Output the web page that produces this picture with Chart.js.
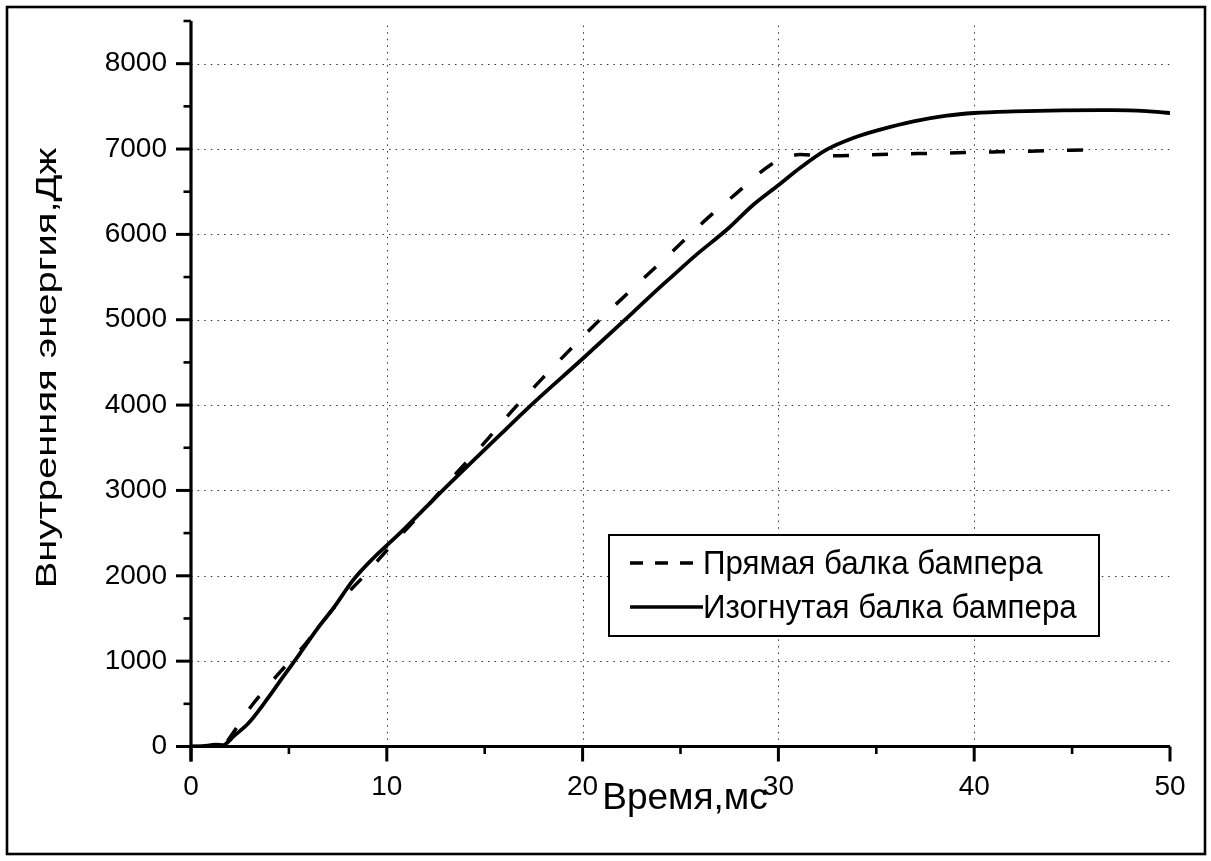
<!DOCTYPE html>
<html>
<head>
<meta charset="utf-8">
<script src="https://cdn.jsdelivr.net/npm/chart.js@4.4.1/dist/chart.umd.min.js"></script>
<style>
  html, body { margin: 0; padding: 0; background: #fff; }
  #wrap { width: 1211px; height: 861px; position: relative; }
  canvas { display: block; }
</style>
</head>
<body>
<div id="wrap"><canvas id="chart"></canvas></div>
<script>
// Internal energy of a straight vs. a curved bumper beam during impact
const timeStraight = [0, 1.6, 2.0, 2.93, 4.34, 5.87, 7.35, 8.8, 10.3, 11.9, 13.4, 14.89, 16.34, 17.91, 19.52, 21.18, 22.87, 24.53, 26.2, 27.87, 29.54, 30.3, 31.1, 32.0, 32.8, 34.5, 36.2, 37.9, 39.5, 41.2, 42.85, 44.5, 46.2, 46.7];
const energyStraight = [0, 0, 110, 428, 818, 1209, 1639, 1990, 2374, 2770, 3163, 3534, 3917, 4304, 4687, 5066, 5433, 5787, 6152, 6484, 6805, 6890, 6935, 6925, 6922, 6932, 6943, 6950, 6959, 6967, 6975, 6984, 6992, 6996];

const timeCurved = [0, 0.6, 1.0, 1.3, 1.65, 1.9, 2.16, 2.93, 3.86, 4.71, 5.57, 6.42, 7.27, 8.29, 9.31, 10.67, 12.03, 13.23, 15.78, 17.48, 20.0, 22.59, 23.9, 24.63, 25.8, 27.36, 28.72, 30.03, 31.1, 32.46, 33.82, 35.2, 36.9, 38.6, 40.0, 42.0, 44.5, 47.1, 48.8, 50.0];
const energyCurved = [0, 5, 15, 22, 15, 55, 115, 272, 545, 818, 1092, 1370, 1620, 1952, 2206, 2499, 2811, 3085, 3651, 4023, 4543, 5090, 5370, 5520, 5760, 6054, 6347, 6582, 6777, 6992, 7129, 7227, 7324, 7391, 7422, 7441, 7453, 7455, 7443, 7422];

const seriesNames = ['Прямая балка бампера', 'Изогнутая балка бампера'];
const xAxisTitle = 'Время,мс';
const yAxisTitle = 'Внутренняя энергия,Дж';
const xTickValues = [0, 10, 20, 30, 40, 50];
const yTickValues = [0, 1000, 2000, 3000, 4000, 5000, 6000, 7000, 8000];

const FONT = "'Liberation Sans', Arial, sans-serif";

function toPoints(xs, ys) {
  return xs.map((x, i) => ({ x: x, y: ys[i] }));
}

// Axes, dotted grid, legend box, titles and outer frame
const decorations = {
  id: 'decorations',
  beforeDatasetsDraw(chart) {
    const { ctx, chartArea: a, scales: { x, y } } = chart;
    ctx.save();
    ctx.strokeStyle = 'rgba(0,0,0,0.8)';
    ctx.lineWidth = 1;
    ctx.setLineDash([1.5, 5.1]);
    xTickValues.forEach(v => {
      if (v === x.min || v === x.max) return;
      const px = Math.round(x.getPixelForValue(v)) + 0.5;
      ctx.beginPath(); ctx.moveTo(px, a.bottom); ctx.lineTo(px, a.top); ctx.stroke();
    });
    yTickValues.forEach(v => {
      if (v === y.min) return;
      const py = Math.round(y.getPixelForValue(v)) + 0.5;
      ctx.beginPath(); ctx.moveTo(a.left, py); ctx.lineTo(a.right, py); ctx.stroke();
    });
    ctx.restore();
  },
  afterDatasetsDraw(chart) {
    const { ctx, chartArea: a, scales: { x, y } } = chart;
    ctx.save();
    ctx.setLineDash([]);
    ctx.strokeStyle = '#000';
    ctx.lineCap = 'butt';

    const major = 15, minor = 7.5;
    // axis lines with outward major and minor ticks
    ctx.lineWidth = 3.2;
    ctx.beginPath(); ctx.moveTo(a.left, a.top); ctx.lineTo(a.left, a.bottom + major); ctx.stroke();
    ctx.beginPath(); ctx.moveTo(a.left - major, a.bottom); ctx.lineTo(a.right, a.bottom); ctx.stroke();
    for (let v = 0; v <= y.max + 1; v += 500) {
      const py = y.getPixelForValue(v);
      const len = v % 1000 === 0 ? major : minor;
      ctx.lineWidth = v % 1000 === 0 ? 3 : 2.6;
      ctx.beginPath(); ctx.moveTo(a.left - len, py); ctx.lineTo(a.left, py); ctx.stroke();
    }
    for (let v = 0; v <= x.max + 0.01; v += 5) {
      const px = x.getPixelForValue(v);
      const len = v % 10 === 0 ? major : minor;
      ctx.lineWidth = v % 10 === 0 ? 3 : 2.6;
      ctx.beginPath(); ctx.moveTo(px, a.bottom); ctx.lineTo(px, a.bottom + len); ctx.stroke();
    }

    // legend
    const lx = 609, ly = 535, lw = 490, lh = 101;
    ctx.fillStyle = '#fff';
    ctx.fillRect(lx, ly, lw, lh);
    ctx.lineWidth = 2;
    ctx.strokeRect(lx, ly, lw, lh);
    const ds = chart.data.datasets;
    const rows = [563, 607];
    ds.forEach((d, i) => {
      ctx.lineWidth = 3.5;
      ctx.setLineDash(d.borderDash && d.borderDash.length ? [13, 12] : []);
      ctx.beginPath(); ctx.moveTo(630, rows[i]); ctx.lineTo(703, rows[i]); ctx.stroke();
      ctx.setLineDash([]);
      ctx.save();
      ctx.translate(703, rows[i]);
      ctx.scale(0.92, 1);
      ctx.fillStyle = '#000';
      ctx.font = '34px ' + FONT;
      ctx.textAlign = 'left';
      ctx.textBaseline = 'middle';
      ctx.fillText(d.label, 0, 2);
      ctx.restore();
    });

    // axis titles
    ctx.fillStyle = '#000';
    ctx.font = '37px ' + FONT;
    ctx.textAlign = 'center';
    ctx.textBaseline = 'middle';
    ctx.fillText(xAxisTitle, 685, 799);

    ctx.save();
    ctx.translate(48, 368);
    ctx.rotate(-Math.PI / 2);
    ctx.scale(1, 0.76);
    ctx.font = '40px ' + FONT;
    ctx.fillText(yAxisTitle, 0, 0);
    ctx.restore();

    // outer frame
    ctx.lineWidth = 2.6;
    ctx.strokeRect(7, 7, 1198, 847);
    ctx.restore();
  }
};

new Chart(document.getElementById('chart'), {
  type: 'line',
  data: {
    datasets: [
      {
        label: seriesNames[0],
        data: toPoints(timeStraight, energyStraight),
        borderColor: '#000',
        borderWidth: 3.5,
        borderDash: [16, 23],
        pointRadius: 0,
        fill: false,
        cubicInterpolationMode: 'monotone'
      },
      {
        label: seriesNames[1],
        data: toPoints(timeCurved, energyCurved),
        borderColor: '#000',
        borderWidth: 3.8,
        pointRadius: 0,
        fill: false,
        cubicInterpolationMode: 'monotone'
      }
    ]
  },
  options: {
    responsive: true,
    maintainAspectRatio: false,
    devicePixelRatio: 1,
    animation: false,
    layout: { padding: { top: 21, right: 41, bottom: 0, left: 0 } },
    plugins: { legend: { display: false }, tooltip: { enabled: false } },
    scales: {
      x: {
        type: 'linear',
        min: 0,
        max: 50,
        afterBuildTicks(s) { s.ticks = xTickValues.map(v => ({ value: v })); },
        afterFit(s) { s.height = 114.5; s.paddingLeft = 0; s.paddingRight = 0; },
        grid: { display: false, drawTicks: false },
        border: { display: false },
        ticks: {
          autoSkip: false,
          maxRotation: 0,
          padding: 24,
          color: '#000',
          font: { family: FONT, size: 28 },
          callback: v => String(v)
        }
      },
      y: {
        type: 'linear',
        min: 0,
        max: 8500,
        afterBuildTicks(s) { s.ticks = yTickValues.map(v => ({ value: v })); },
        afterFit(s) { s.width = 191; s.paddingTop = 0; s.paddingBottom = 0; },
        grid: { display: false, drawTicks: false },
        border: { display: false },
        ticks: {
          autoSkip: false,
          padding: 24,
          color: '#000',
          font: { family: FONT, size: 28 },
          callback: v => String(v)
        }
      }
    }
  },
  plugins: [decorations]
});
</script>
</body>
</html>
